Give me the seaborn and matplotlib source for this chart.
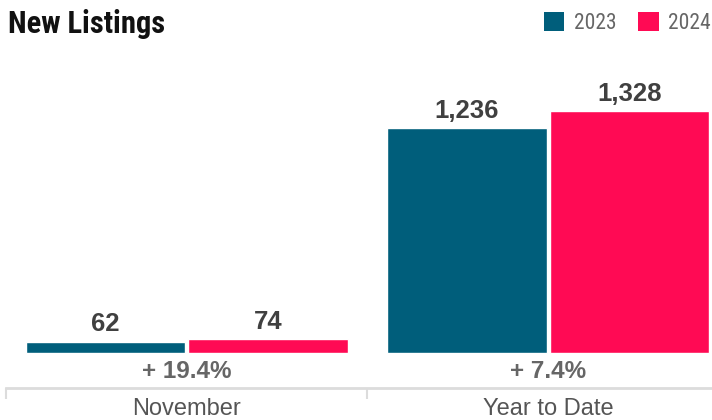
import pandas as pd
import matplotlib.pyplot as plt
import seaborn as sns
from matplotlib import font_manager
from matplotlib.patches import Patch

# chart data
periods = ['November', 'Year to Date']
years = ['2023', '2024']
values_2023 = [62, 1236]
values_2024 = [74, 1328]
colors = ['#005e7b', '#ff0a54']


def pick_font(names):
    for name in names:
        try:
            font_manager.findfont(name, fallback_to_default=False)
            return name
        except Exception:
            pass
    return 'DejaVu Sans'


narrow = pick_font(['Liberation Sans Narrow', 'Roboto Condensed', 'Liberation Sans'])
sans = pick_font(['Liberation Sans', 'Arial', 'DejaVu Sans'])

df = pd.DataFrame({
    'period': periods * 2,
    'year': [years[0]] * 2 + [years[1]] * 2,
    'value': values_2023 + values_2024,
})

sns.set_style('white')
plt.rcParams['font.family'] = [sans, 'DejaVu Sans']

fig = plt.figure(figsize=(7.12, 4.2), dpi=100)
ax = fig.add_axes([6 / 712, 32 / 420, 706 / 712, 328 / 420])

sns.barplot(data=df, x='period', y='value', hue='year', palette=colors,
            width=0.9, gap=0.02, saturation=1, legend=False, ax=ax)

for cont in ax.containers:
    ax.bar_label(cont, labels=[f'{v:,.0f}' for v in cont.datavalues],
                 padding=4, fontsize=18.5, fontweight='bold', color='#404040')

# percent change under each pair
for i in range(len(periods)):
    pct = (values_2024[i] - values_2023[i]) / values_2023[i] * 100
    ax.annotate(f'+ {pct:.1f}%', xy=(i, 0), xytext=(0, -13.5),
                textcoords='offset points', ha='center', va='center',
                fontsize=17.5, fontweight='bold', color='#666666')

sns.despine(ax=ax, left=True, top=True, right=True)
ax.spines['bottom'].set_color('#dcdcdc')
ax.spines['bottom'].set_linewidth(2)
ax.set_yticks([])
ax.set_xlabel('')
ax.set_ylabel('')
ax.set_xticks([-0.5, 0.5], minor=True)
ax.tick_params(axis='x', which='minor', bottom=True, length=8, width=1.5,
               color='#dcdcdc')
ax.tick_params(axis='x', which='major', bottom=False, length=0, pad=7,
               labelsize=17, labelcolor='#555555')

ax.set_xlim(-0.5, 1.453)
ax.set_ylim(-193, 1611)

fig.text(8 / 712, 1 - 33 / 420, 'New Listings', fontsize=22, fontweight='bold',
         family=[narrow, 'DejaVu Sans'], color='#111111', va='baseline')

handles = [Patch(facecolor=c, edgecolor='none') for c in colors]
fig.legend(handles, years, loc='upper right', bbox_to_anchor=(1 - 1 / 712, 1 - 12 / 420),
           ncol=2, frameon=False, handlelength=0.95, handleheight=0.95,
           handletextpad=0.45, columnspacing=1.0, borderaxespad=0, borderpad=0,
           prop={'family': narrow, 'size': 15.5}, labelcolor='#666666')

fig.savefig('out.png', dpi=100)
